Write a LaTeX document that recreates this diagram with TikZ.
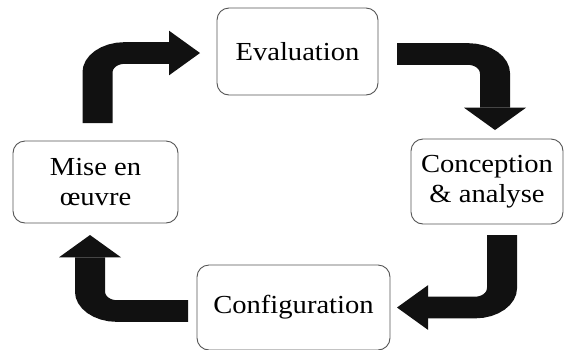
\documentclass[tikz,border=0pt]{standalone}
\usepackage{fontspec}
\setmainfont{Liberation Serif}[FakeStretch=1.1]
\usetikzlibrary{arrows.meta}
\definecolor{framegray}{HTML}{555555}
\definecolor{arrowblack}{HTML}{111111}
\begin{document}
\begin{tikzpicture}[x=1pt,y=-1pt,
  stage/.style={draw=framegray, line width=0.9pt, rounded corners=12pt, fill=white,
    inner sep=0pt, align=center, font=\fontsize{26}{30}\selectfont},
  flow/.style={draw=arrowblack, line width=30pt, rounded corners=27pt,
    -{Triangle[width=62pt,length=31pt,line width=0pt]}}
]
\useasboundingbox (0,0) rectangle (565,349);
\fill[white] (0,0) rectangle (565,349);

% the four stages of the cycle
\node[stage, minimum width=161pt, minimum height=87pt] (eval) at (297.5,51.5) {Evaluation};
\node[stage, minimum width=152pt, minimum height=85pt] (conc) at (487,181.5) {Conception\\\& analyse};
\node[stage, minimum width=193pt, minimum height=85pt] (conf) at (293.5,307.5) {Configuration};
\node[stage, minimum width=165pt, minimum height=82pt] (mise) at (95.5,182) {Mise en\\œuvre};

% bent arrows between the stages, flattened vertically
\begin{scope}[transform canvas={yscale=0.72}, yscale=1.38889]
  \coordinate (a1s) at (97.5,123);
  \coordinate (a1e) at (200,53);
  \coordinate (a2s) at (397,54);
  \coordinate (a2e) at (495,130);
  \coordinate (a3s) at (502,235);
  \coordinate (a3e) at (397,307.5);
  \coordinate (a4s) at (188,311);
  \coordinate (a4e) at (90,235);
  \draw[flow] (a1s) |- (a1e);
  \draw[flow] (a2s) -| (a2e);
  \draw[flow] (a3s) |- (a3e);
  \draw[flow] (a4s) -| (a4e);
\end{scope}
\end{tikzpicture}
\end{document}
